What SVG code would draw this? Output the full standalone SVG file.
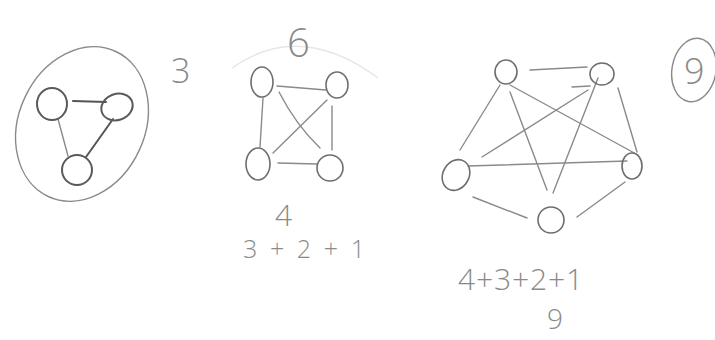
<svg xmlns="http://www.w3.org/2000/svg" width="715" height="340" viewBox="0 0 715 340">
<style>
.bg{fill:#ffffff}
.node{fill:none;stroke:#6e6e6e;stroke-width:1.6}
.dark{stroke:#5a5a5a;stroke-width:2}
.edge{fill:none;stroke:#8a8a8a;stroke-width:1.4;stroke-linecap:round}
.edark{stroke:#555;stroke-width:2}
.faint{fill:none;stroke:#e6e6e6;stroke-width:1.5}
.hand{font-family:"Open Sans","DejaVu Sans",sans-serif;font-weight:300;fill:#8a8a8a}
.ring{fill:none;stroke:#8a8a8a;stroke-width:1.4}
</style>
<rect class="bg" x="0" y="0" width="715" height="340"/>

<!-- left: triangle graph -->
<g id="group-3">
  <ellipse class="ring" cx="82" cy="124" rx="63" ry="80" transform="rotate(25 82 124)"/>
  <text class="hand" x="171" y="83" font-size="34">3</text>
</g>
<g id="connectors">
  <!-- left -->
  <path class="edge edark" d="M73 101 L106 102"/>
  <path class="edge" d="M58 119 L68 156"/>
  <path class="edge edark" d="M113 119 L86 157"/>
  <!-- middle -->
  <path class="edge" d="M277 86 L326 90"/>
  <path class="edge" d="M263 98 L260 147"/>
  <path class="edge" d="M332 106 L332 150"/>
  <path class="edge" d="M278 163 L317 164"/>
  <path class="edge" d="M279 92 Q296 125 320 148"/>
  <path class="edge" d="M327 100 L273 153"/>
  <!-- right -->
  <path class="edge" d="M530 70 L587 67"/>
  <path class="edge" d="M572 87 L590 86"/>
  <path class="edge" d="M588 90 L482 157"/>
  <path class="edge" d="M500 85 L460 150"/>
  <path class="edge" d="M510 85 L638 155"/>
  <path class="edge" d="M510 92 L547 190"/>
  <path class="edge" d="M598 78 L553 193"/>
  <path class="edge" d="M618 88 L637 152"/>
  <path class="edge" d="M468 166 L627 161"/>
  <path class="edge" d="M473 197 L527 218"/>
  <path class="edge" d="M625 182 L577 217"/>
</g>
<g id="n-l1"><ellipse class="node dark" cx="52" cy="104" rx="15" ry="16"/></g>
<g id="n-l2"><ellipse class="node dark" cx="117" cy="107" rx="16" ry="13" transform="rotate(-20 117 107)"/></g>
<g id="n-l3"><ellipse class="node dark" cx="77" cy="170" rx="15" ry="15"/></g>

<!-- middle: square graph -->
<g id="group-6">
  <path class="faint" d="M232 68 Q300 20 378 78"/>
  <text class="hand" x="287" y="57" font-size="40">6</text>
  <text class="hand" x="275" y="226" font-size="30">4</text>
  <text class="hand" x="243" y="258" font-size="25" textLength="122" lengthAdjust="spacing">3+2+1</text>
</g>
<g id="n-m1"><ellipse class="node" cx="262" cy="82" rx="11" ry="15"/></g>
<g id="n-m2"><ellipse class="node" cx="337" cy="85" rx="11" ry="13"/></g>
<g id="n-m3"><ellipse class="node" cx="258" cy="164" rx="12" ry="16"/></g>
<g id="n-m4"><ellipse class="node" cx="330" cy="168" rx="13" ry="13"/></g>

<!-- right: pentagon graph -->
<g id="group-9">
  <ellipse class="ring" cx="694" cy="70" rx="22" ry="32" transform="rotate(10 694 70)"/>
  <text class="hand" x="684" y="84" font-size="36">9</text>
  <text class="hand" x="458" y="290" font-size="30" textLength="125" lengthAdjust="spacing">4+3+2+1</text>
  <text class="hand" x="547" y="329" font-size="28">9</text>
</g>
<g id="n-r1"><ellipse class="node" cx="506" cy="72" rx="11" ry="12"/></g>
<g id="n-r2"><ellipse class="node" cx="602" cy="74" rx="12" ry="11"/></g>
<g id="n-r3"><ellipse class="node" cx="456" cy="175" rx="13" ry="16" transform="rotate(30 456 175)"/></g>
<g id="n-r4"><ellipse class="node" cx="632" cy="166" rx="10" ry="13"/></g>
<g id="n-r5"><ellipse class="node" cx="551" cy="220" rx="13" ry="13"/></g>
</svg>
